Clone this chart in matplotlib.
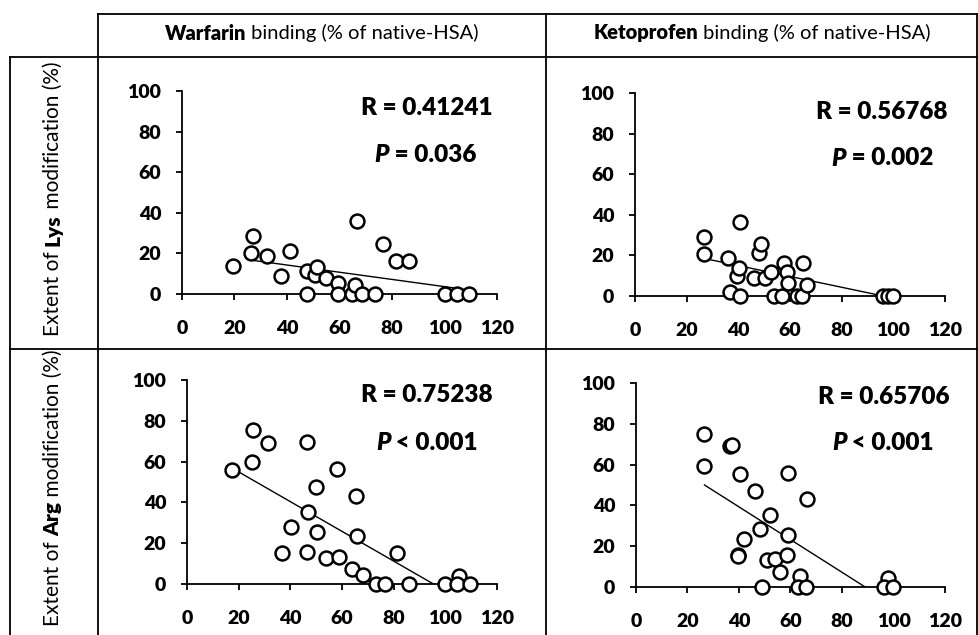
import matplotlib
matplotlib.use("Agg")
import matplotlib.pyplot as plt
from matplotlib.lines import Line2D

plt.rcParams["font.family"] = ["Lato", "DejaVu Sans"]

# Warfarin binding vs Lys modification
warf_lys_x = [19.4, 26.3, 26.9, 32.4, 37.8, 41.3, 47.6, 47.6, 50.5, 51.4, 54.7, 59.4,
              59.4, 64.8, 66.0, 66.7, 68.6, 73.4, 76.6, 81.7, 86.3, 100.3, 104.8, 109.2]
warf_lys_y = [13.8, 20.3, 28.5, 18.7, 9.0, 21.3, 11.3, 0.0, 9.5, 13.4, 8.0, 5.2,
              0.0, 0.0, 4.4, 36.1, 0.0, 0.0, 24.6, 16.2, 16.2, 0.0, 0.0, 0.0]
warf_lys_fit_x = [26.3, 109.2]
warf_lys_fit_y = [16.7, 2.0]

# Ketoprofen binding vs Lys modification
keto_lys_x = [26.8, 26.8, 35.9, 36.8, 39.4, 40.4, 40.6, 40.6, 46.2, 48.1, 48.8, 50.3,
              52.6, 53.9, 56.8, 57.8, 58.7, 59.4, 62.6, 64.5, 65.2, 66.5, 96.1, 98.0, 100.0]
keto_lys_y = [28.9, 20.7, 18.9, 2.1, 9.8, 13.9, 0.0, 36.6, 8.7, 21.3, 25.6, 8.7,
              12.0, 0.0, 0.0, 16.1, 12.0, 6.2, 0.0, 0.0, 16.4, 5.4, 0.0, 0.0, 0.0]
keto_lys_fit_x = [26.8, 96.1]
keto_lys_fit_y = [18.5, 0.0]

# Warfarin binding vs Arg modification
warf_arg_x = [17.6, 25.6, 25.0, 31.2, 46.3, 58.2, 49.9, 65.4, 46.7, 40.1, 50.4, 65.7, 36.9,
              46.3, 53.8, 58.8, 63.8, 68.3, 73.2, 76.7, 81.2, 86.1, 100.0, 105.1, 104.7, 109.4]
warf_arg_y = [55.9, 75.5, 59.6, 69.0, 69.4, 56.2, 47.4, 43.1, 35.5, 28.1, 25.7, 23.5, 15.4,
              15.8, 12.6, 13.4, 7.2, 4.4, 0.0, 0.0, 15.4, 0.0, 0.0, 4.1, 0.0, 0.0]
warf_arg_fit_x = [17.6, 95.4]
warf_arg_fit_y = [56.7, 0.0]

# Ketoprofen binding vs Arg modification
keto_arg_x = [26.6, 26.6, 36.6, 37.2, 40.5, 46.3, 59.2, 66.3, 52.1, 48.2, 41.8, 59.2, 39.8,
              39.6, 50.8, 54.1, 58.6, 56.0, 63.8, 48.9, 63.1, 66.1, 98.0, 96.5, 100.0]
keto_arg_y = [75.2, 59.3, 69.2, 69.5, 55.4, 47.2, 56.0, 43.0, 35.3, 28.3, 23.6, 25.6, 15.8,
              15.0, 13.4, 13.7, 15.8, 7.2, 5.2, 0.0, 0.0, 0.0, 4.4, 0.0, 0.0]
keto_arg_fit_x = [26.6, 89.0]
keto_arg_fit_y = [50.0, 0.0]

x_ticks = [0, 20, 40, 60, 80, 100, 120]
y_ticks = [0, 20, 40, 60, 80, 100]
r_labels = ["R = 0.41241", "R = 0.56768", "R = 0.75238", "R = 0.65706"]
p_labels = [" = 0.036", " = 0.002", " < 0.001", " < 0.001"]

BOLD = "heavy"

W, H = 979, 635
fig = plt.figure(figsize=(W / 100, H / 100), dpi=100)
fig.patch.set_facecolor("white")

# background axes in pixel units, y downward
bg = fig.add_axes([0, 0, 1, 1])
bg.set_xlim(0, W)
bg.set_ylim(H, 0)
bg.axis("off")

for xs, ys in [([98, 978], [14, 14]), ([10, 978], [57, 57]), ([10, 978], [349, 349]),
               ([98, 98], [14, H]), ([546, 546], [14, H]), ([10, 10], [57, H]),
               ([977, 977], [14, H])]:
    bg.add_line(Line2D(xs, ys, color="black", lw=1.3))

renderer = fig.canvas.get_renderer()


def rich_text(x, y, pieces, size, vertical=False, anchor="center"):
    # pieces: (text, weight, style) drawn one after another
    arts = []
    for s, wt, st in pieces:
        t = bg.text(0, 0, s, fontsize=size, fontweight=wt, fontstyle=st,
                    rotation=90 if vertical else 0, rotation_mode="anchor",
                    ha="left", va="center", zorder=5)
        arts.append(t)
    sizes = []
    for t in arts:
        bb = t.get_window_extent(renderer)
        sizes.append(bb.height if vertical else bb.width)
    total = sum(sizes)
    if vertical:
        pos = y + total / 2
    else:
        pos = x - total / 2 if anchor == "center" else x - total
    for t, sz in zip(arts, sizes):
        if vertical:
            t.set_position((x, pos))
            pos -= sz
        else:
            t.set_position((pos, y))
            pos += sz


rich_text(322, 33, [("Warfarin", BOLD, "normal"), (" binding (% of native-HSA)", "normal", "normal")], 14.5)
rich_text(762, 33, [("Ketoprofen", BOLD, "normal"), (" binding (% of native-HSA)", "normal", "normal")], 14.5)
rich_text(53, 199, [("Extent of ", "normal", "normal"), ("Lys", BOLD, "normal"),
                    (" modification (%)", "normal", "normal")], 15, vertical=True)
rich_text(53, 488, [("Extent of ", "normal", "normal"), ("Arg", BOLD, "normal"),
                    (" modification (%)", "normal", "normal")], 15, vertical=True)

# panel rectangles in pixels: left, right, top(y=100), bottom(y=0)
panels = [
    (182, 497, 91, 294, warf_lys_x, warf_lys_y, warf_lys_fit_x, warf_lys_fit_y),
    (635, 945, 93, 296, keto_lys_x, keto_lys_y, keto_lys_fit_x, keto_lys_fit_y),
    (187, 497, 380, 584, warf_arg_x, warf_arg_y, warf_arg_fit_x, warf_arg_fit_y),
    (636, 945, 383, 587, keto_arg_x, keto_arg_y, keto_arg_fit_x, keto_arg_fit_y),
]
r_pos = [(493, 108), (948, 112), (493, 395), (950, 397)]
p_pos = [(425, 155), (882, 158), (427, 443), (883, 443)]

for i, (l, r, t, b, xs, ys, fx, fy) in enumerate(panels):
    ax = fig.add_axes([l / W, 1 - b / H, (r - l) / W, (b - t) / H])
    ax.set_facecolor("none")
    ax.plot(fx, fy, color="black", lw=1.0, zorder=2)
    ax.scatter(xs, ys, s=100, facecolor="white", edgecolor="black", linewidth=1.8,
               zorder=3, clip_on=False)
    ax.set_xlim(0, 120)
    ax.set_ylim(0, 100)
    ax.set_xticks(x_ticks, [str(v) for v in x_ticks], fontweight=BOLD, fontsize=14)
    ax.set_yticks(y_ticks, [str(v) for v in y_ticks], fontweight=BOLD, fontsize=14)
    for side in ["top", "right"]:
        ax.spines[side].set_visible(False)
    for side in ["left", "bottom"]:
        ax.spines[side].set_linewidth(1.3)
    ax.tick_params(axis="both", direction="out", length=4, width=1.3)
    ax.tick_params(axis="x", pad=15)
    ax.tick_params(axis="y", pad=11)

    rich_text(r_pos[i][0], r_pos[i][1], [(r_labels[i], BOLD, "normal")], 17.5, anchor="right")
    rich_text(p_pos[i][0], p_pos[i][1], [("P", BOLD, "italic"), (p_labels[i], BOLD, "normal")], 17.5)

fig.savefig("out.png", dpi=100)
